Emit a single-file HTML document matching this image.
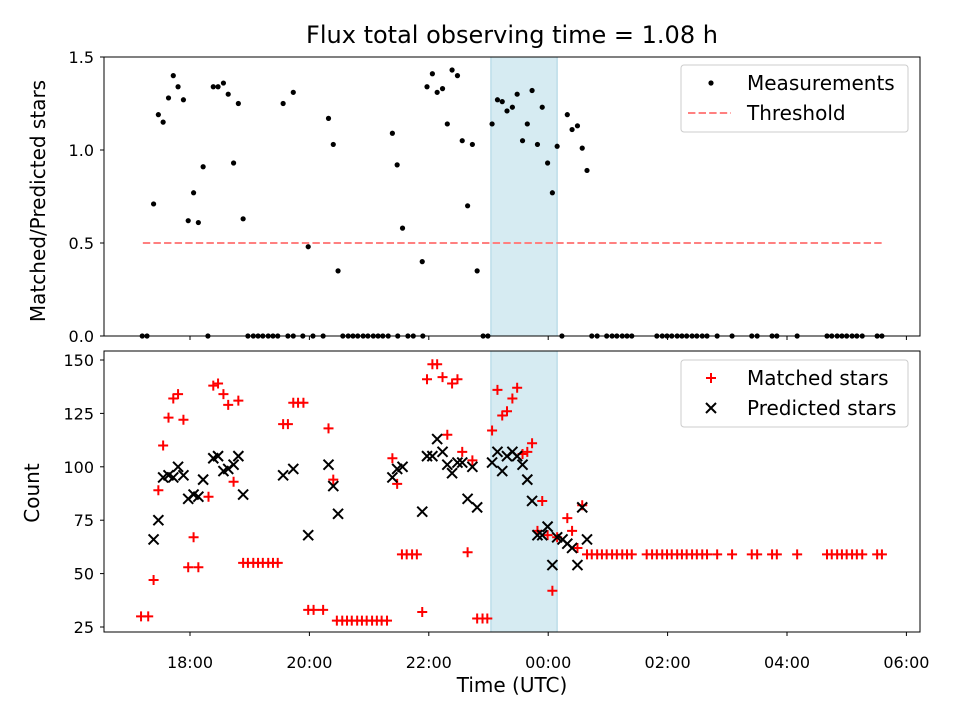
<!DOCTYPE html>
<html><head><meta charset="utf-8"><style>
body{margin:0;background:#fff;}
svg{display:block;font-family:"DejaVu Sans","Liberation Sans",sans-serif;}
</style></head><body>
<svg id="chart" width="960" height="720" viewBox="0 0 960 720"></svg>
<script>
// ---- data (hours since 00:00 of first day; >24 = next day) ----
const ratioTimes=[17.39,17.47,17.55,17.64,17.72,17.80,17.89,17.97,18.06,18.14,18.22,18.39,18.47,18.56,18.64,18.73,18.81,18.89,19.56,19.73,19.98,20.32,20.40,20.48,21.39,21.47,21.56,21.89,21.97,22.06,22.14,22.23,22.31,22.39,22.48,22.56,22.65,22.73,22.81,23.06,23.15,23.23,23.31,23.40,23.48,23.57,23.65,23.73,23.82,23.90,23.99,24.07,24.15,24.32,24.40,24.49,24.57,24.65];
const ratioValues=[0.71,1.19,1.15,1.28,1.40,1.34,1.27,0.62,0.77,0.61,0.91,1.34,1.34,1.36,1.30,0.93,1.25,0.63,1.25,1.31,0.48,1.17,1.03,0.35,1.09,0.92,0.58,0.40,1.34,1.41,1.31,1.33,1.14,1.43,1.40,1.05,0.70,1.03,0.35,1.14,1.27,1.26,1.21,1.23,1.30,1.05,1.14,1.32,1.03,1.23,0.93,0.77,1.02,1.19,1.11,1.13,1.01,0.89];
const zeroTimes=[17.20,17.28,18.30,18.97,19.06,19.14,19.22,19.31,19.39,19.47,19.64,19.73,19.89,20.06,20.23,20.56,20.65,20.73,20.81,20.90,20.98,21.07,21.15,21.23,21.32,21.48,21.65,21.74,21.90,22.91,22.99,24.23,24.73,24.82,24.98,25.07,25.15,25.24,25.32,25.40,25.82,25.91,25.99,26.07,26.16,26.24,26.32,26.41,26.49,26.58,26.66,26.83,27.08,27.41,27.50,27.75,27.83,28.17,28.67,28.75,28.84,28.92,29.00,29.09,29.17,29.26,29.51,29.59];
const threshold=0.5;
const thresholdRange=[17.21,29.62];
const matchedTimes=[17.18,17.30,17.39,17.47,17.55,17.64,17.72,17.80,17.89,17.97,18.06,18.14,18.31,18.39,18.47,18.56,18.64,18.73,18.81,18.89,18.97,19.06,19.14,19.22,19.31,19.39,19.47,19.56,19.64,19.73,19.81,19.90,19.98,20.07,20.23,20.32,20.40,20.46,20.55,20.63,20.71,20.80,20.88,20.96,21.05,21.13,21.21,21.30,21.39,21.47,21.55,21.63,21.72,21.80,21.89,21.97,22.06,22.14,22.23,22.31,22.39,22.48,22.56,22.65,22.73,22.81,22.90,22.98,23.06,23.15,23.23,23.31,23.40,23.48,23.57,23.65,23.73,23.82,23.90,23.99,24.07,24.15,24.32,24.40,24.49,24.57,24.65,24.73,24.82,24.90,24.98,25.07,25.15,25.24,25.32,25.40,25.65,25.74,25.82,25.91,25.99,26.07,26.16,26.24,26.32,26.41,26.49,26.58,26.66,26.83,27.08,27.41,27.50,27.75,27.83,28.17,28.67,28.75,28.84,28.92,29.00,29.09,29.17,29.26,29.51,29.59];
const matchedValues=[30,30,47,89,110,123,132,134,122,53,67,53,86,138,139,134,129,93,131,55,55,55,55,55,55,55,55,120,120,130,130,130,33,33,33,118,94,28,28,28,28,28,28,28,28,28,28,28,104,92,59,59,59,59,32,141,148,148,142,115,139,141,107,60,103,29,29,29,117,136,124,126,132,137,106,107,111,70,84,68,42,67,76,70,62,82,59,59,59,59,59,59,59,59,59,59,59,59,59,59,59,59,59,59,59,59,59,59,59,59,59,59,59,59,59,59,59,59,59,59,59,59,59,59,59,59,59];
const predictedTimes=[17.39,17.47,17.55,17.64,17.72,17.80,17.89,17.97,18.06,18.14,18.22,18.39,18.47,18.56,18.64,18.73,18.81,18.89,19.56,19.73,19.98,20.32,20.40,20.48,21.39,21.47,21.56,21.89,21.97,22.06,22.14,22.23,22.31,22.39,22.48,22.56,22.65,22.73,22.81,23.06,23.15,23.23,23.31,23.40,23.48,23.57,23.65,23.73,23.82,23.90,23.99,24.07,24.15,24.24,24.32,24.40,24.49,24.57,24.65];
const predictedValues=[66,75,95,96,95,100,96,85,87,86,94,104,105,98,99,101,105,87,96,99,68,101,91,78,95,99,100,79,105,105,113,107,101,97,102,102,85,100,81,102,107,98,105,107,105,101,94,84,68,68,72,54,67,66,64,62,54,81,66];
const xTicks=[18,20,22,24,26,28,30];
const xTickLabels=["18:00","20:00","22:00","00:00","02:00","04:00","06:00"];
const topTicks=[0,0.5,1.0,1.5];
const topTickLabels=["0.0","0.5","1.0","1.5"];
const botTicks=[25,50,75,100,125,150];
const spanRange=[23.04,24.15];

// ---- layout ----
const L=104,R=920,T1=57,B1=336,T2=351,B2=632;
const x=h=>190+(h-18)*59.7;
const y1=v=>336-v*186;
const y2=v=>627-(v-25)*2.136;
const svg=document.getElementById('chart');
const NS='http://www.w3.org/2000/svg';
function mk(tag,attrs,parent){const e=document.createElementNS(NS,tag);for(const k in attrs)e.setAttribute(k,attrs[k]);(parent||svg).appendChild(e);return e;}
function txt(s,attrs,parent){const e=mk('text',attrs,parent);e.textContent=s;return e;}

const t=txt('Flux total observing time = 1.08 h',{x:512,y:43,'text-anchor':'middle','font-size':'24'});



function panel(top,bot,name){
  const g=mk('g',{});
  
  
  const sp=mk('rect',{x:x(spanRange[0]),y:top,width:x(spanRange[1])-x(spanRange[0]),height:bot-top,fill:'#add8e6','fill-opacity':0.5,stroke:'#a8d3e2','stroke-width':1},g);
  
  
  return g;
}
function frame(g,top,bot){
  mk('rect',{x:L,y:top,width:R-L,height:bot-top,fill:'none',stroke:'#000','stroke-width':1},g);
}

// top panel
const g1=panel(T1,B1,'ratio-panel');
const thr=mk('line',{x1:x(thresholdRange[0]),x2:x(thresholdRange[1]),y1:y1(threshold),y2:y1(threshold),stroke:'#ff8080','stroke-width':2,'stroke-dasharray':'7.4,3.2'},g1);


ratioTimes.forEach((h,i)=>{
  const c=mk('circle',{cx:x(h),cy:y1(ratioValues[i]),r:2.6,fill:'#000'},g1);
  
  
});
zeroTimes.forEach(h=>{
  const c=mk('circle',{cx:x(h),cy:y1(0),r:2.6,fill:'#000'},g1);
  
  
});
frame(g1,T1,B1);
topTicks.forEach((v,i)=>{
  mk('line',{x1:L-4,x2:L,y1:y1(v),y2:y1(v),stroke:'#000'},g1);
  const tl=txt(topTickLabels[i],{x:L-10,y:y1(v)+6,'text-anchor':'end','font-size':'16'},g1);
  
  
});
xTicks.forEach(h=>mk('line',{x1:x(h),x2:x(h),y1:B1,y2:B1+4,stroke:'#000'},g1));
const yl1=txt('Matched/Predicted stars',{x:0,y:0,transform:'translate(45,201) rotate(-90)','text-anchor':'middle','font-size':'20'});



// bottom panel
const g2=panel(T2,B2,'count-panel');
matchedTimes.forEach((h,i)=>{
  const cx=x(h),cy=y2(matchedValues[i]);
  const p=mk('path',{d:`M${cx-5},${cy}H${cx+5}M${cx},${cy-5}V${cy+5}`,stroke:'#ff0000','stroke-width':2},g2);
  
  
});
predictedTimes.forEach((h,i)=>{
  const cx=x(h),cy=y2(predictedValues[i]);
  const p=mk('path',{d:`M${cx-5},${cy-5}L${cx+5},${cy+5}M${cx-5},${cy+5}L${cx+5},${cy-5}`,stroke:'#000','stroke-width':2},g2);
  
  
});
frame(g2,T2,B2);
botTicks.forEach(v=>{
  mk('line',{x1:L-4,x2:L,y1:y2(v),y2:y2(v),stroke:'#000'},g2);
  const tl=txt(String(v),{x:L-10,y:y2(v)+6,'text-anchor':'end','font-size':'16'},g2);
  
  
});
xTicks.forEach((h,i)=>{
  mk('line',{x1:x(h),x2:x(h),y1:B2,y2:B2+4,stroke:'#000'},g2);
  const tl=txt(xTickLabels[i],{x:x(h),y:B2+36,'text-anchor':'middle','font-size':'16'},g2);
  
  
});
const yl2=txt('Count',{x:0,y:0,transform:'translate(39,493) rotate(-90)','text-anchor':'middle','font-size':'20'});


const xl=txt('Time (UTC)',{x:512,y:692,'text-anchor':'middle','font-size':'20'});



// legends
function legend(top,name,entries){
  const g=mk('g',{});
  
  
  mk('rect',{x:681,y:top,width:227,height:67,rx:3,fill:'#fff','fill-opacity':0.8,stroke:'#ccc'},g);
  entries.forEach((e,i)=>{
    const cy=top+18+i*30;
    e.draw(g,711,cy);
    const tl=txt(e.label,{x:747,y:cy+7,'font-size':'20'},g);
    
    
  });
}
legend(65,'ratio-legend',[
  {label:'Measurements',draw:(g,cx,cy)=>mk('circle',{cx:cx,cy:cy,r:2.6,fill:'#000'},g)},
  {label:'Threshold',draw:(g,cx,cy)=>mk('line',{x1:cx-23,x2:cx+20,y1:cy,y2:cy,stroke:'#ff8080','stroke-width':2,'stroke-dasharray':'7.4,3.2'},g)}
]);
legend(360,'count-legend',[
  {label:'Matched stars',draw:(g,cx,cy)=>mk('path',{d:`M${cx-5},${cy}H${cx+5}M${cx},${cy-5}V${cy+5}`,stroke:'#f00','stroke-width':2},g)},
  {label:'Predicted stars',draw:(g,cx,cy)=>mk('path',{d:`M${cx-5},${cy-5}L${cx+5},${cy+5}M${cx-5},${cy+5}L${cx+5},${cy-5}`,stroke:'#000','stroke-width':2},g)}
]);
</script>
</body></html>
